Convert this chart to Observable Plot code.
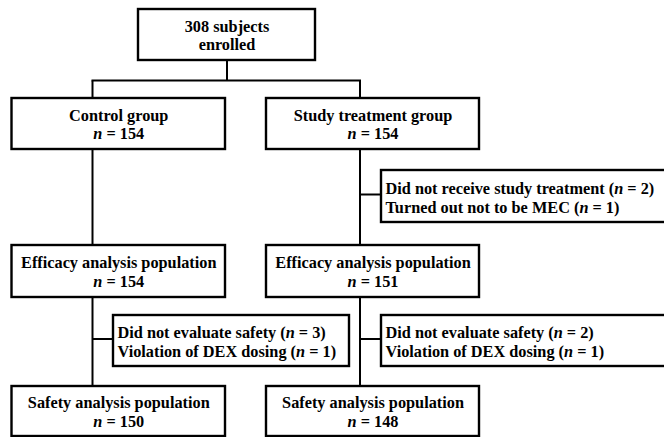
<!DOCTYPE html>
<html>
<head>
<meta charset="utf-8">
<script src="https://cdn.jsdelivr.net/npm/d3@7"></script>
<script src="https://cdn.jsdelivr.net/npm/@observablehq/plot@0.6"></script>
<style>
  html, body { margin: 0; padding: 0; background: #fff; overflow: hidden; }
  #chart svg { display: block; overflow: hidden; }
  #chart svg text { font-family: "Liberation Serif", "Times New Roman", serif !important; }
</style>
</head>
<body>
<div id="chart"></div>
<script>
// ---- data ----
const enrolled = 308;
const groups = ["Control group", "Study treatment group"];
const groupN = [154, 154];
const efficacyLabel = "Efficacy analysis population";
const efficacyN = [154, 151];
const safetyLabel = "Safety analysis population";
const safetyN = [150, 148];
const preEfficacyReasons = [[], ["Did not receive study treatment", "Turned out not to be MEC"]];
const preEfficacyCounts = [[], [2, 1]];
const preSafetyReasons = [["Did not evaluate safety", "Violation of DEX dosing"], ["Did not evaluate safety", "Violation of DEX dosing"]];
const preSafetyCounts = [[3, 1], [2, 1]];

// ---- layout (pixels) ----
const W = 664, H = 437;
const topBox = {x1: 138, x2: 315, y1: 9, y2: 60};
const splitY = 80;
const stemX = [92, 359.5];
const colBoxX = [[11.5, 225], [266, 479]];
const rowY = {group: [98, 149], efficacy: [245, 297], safety: [386, 436]};
const exclX = [[113, 349], [381, 670]];
const exclY = {pre: [170, 222], post: [315, 366]};
const FONT = "Liberation Serif";
const FS = 16.3;

// ---- build nodes ----
const boxes = [];
const texts = [];
boxes.push(topBox);
texts.push({x: (topBox.x1 + topBox.x2) / 2, y: (topBox.y1 + topBox.y2) / 2,
  text: `${enrolled} subjects\nenrolled`, anchor: "middle"});

groups.forEach((g, i) => {
  const [x1, x2] = colBoxX[i];
  const rows = [
    ["group", `${g}\nn = ${groupN[i]}`],
    ["efficacy", `${efficacyLabel}\nn = ${efficacyN[i]}`],
    ["safety", `${safetyLabel}\nn = ${safetyN[i]}`]
  ];
  rows.forEach(([r, t]) => {
    const [y1, y2] = rowY[r];
    boxes.push({x1, x2, y1, y2});
    texts.push({x: (x1 + x2) / 2, y: (y1 + y2) / 2, text: t, anchor: "middle"});
  });
  const excl = [["pre", preEfficacyReasons[i], preEfficacyCounts[i]],
                ["post", preSafetyReasons[i], preSafetyCounts[i]]];
  excl.forEach(([k, reasons, counts]) => {
    if (!reasons.length) return;
    const [ex1, ex2] = exclX[i];
    const [y1, y2] = exclY[k];
    boxes.push({x1: ex1, x2: ex2, y1, y2});
    texts.push({x: ex1 + 4, y: (y1 + y2) / 2 + 0.5,
      text: reasons.map((r, j) => `${r} (n = ${counts[j]})`).join("\n"), anchor: "start"});
  });
});

// ---- connectors ----
const links = [];
const cx = (topBox.x1 + topBox.x2) / 2;
links.push({x1: cx, y1: topBox.y2, x2: cx, y2: splitY});
links.push({x1: stemX[0] - 1, y1: splitY, x2: stemX[1] + 1, y2: splitY});
stemX.forEach((sx, i) => {
  links.push({x1: sx, y1: splitY, x2: sx, y2: rowY.group[0]});
  links.push({x1: sx, y1: rowY.group[1], x2: sx, y2: rowY.efficacy[0]});
  links.push({x1: sx, y1: rowY.efficacy[1], x2: sx, y2: rowY.safety[0]});
  if (preEfficacyReasons[i].length) {
    const ym = (exclY.pre[0] + exclY.pre[1]) / 2 - 2;
    links.push({x1: sx, y1: ym, x2: exclX[i][0], y2: ym});
  }
  if (preSafetyReasons[i].length) {
    const ym = (exclY.post[0] + exclY.post[1]) / 2 - 2;
    links.push({x1: sx, y1: ym, x2: exclX[i][0], y2: ym});
  }
});

const chart = Plot.plot({
  width: W, height: H,
  margin: 0,
  x: {domain: [0, W], range: [0, W], axis: null},
  y: {domain: [0, H], range: [0, H], axis: null},
  style: {fontFamily: FONT, background: "#fff"},
  marks: [
    Plot.link(links, {x1: "x1", y1: "y1", x2: "x2", y2: "y2", stroke: "#000", strokeWidth: 2}),
    Plot.rect(boxes, {x1: "x1", x2: "x2", y1: "y1", y2: "y2", fill: "#fff", stroke: "#000", strokeWidth: 2.4}),
    Plot.text(texts.filter(d => d.anchor === "middle"), {x: "x", y: "y", text: "text", textAnchor: "middle",
      lineAnchor: "middle", lineHeight: 1.15, fontSize: FS, fontWeight: "bold", fontFamily: FONT, fill: "#000"}),
    Plot.text(texts.filter(d => d.anchor === "start"), {x: "x", y: "y", text: "text", textAnchor: "start",
      lineAnchor: "middle", lineHeight: 1.18, fontSize: FS, fontWeight: "bold", fontFamily: FONT, fill: "#000"})
  ]
});

// italicise the statistical "n"
d3.select(chart).selectAll("text").each(function () {
  const lines = d3.select(this).selectAll("tspan").nodes();
  const targets = lines.length ? lines : [this];
  targets.forEach(node => {
    const s = node.textContent;
    if (!/\bn(?= = )/.test(s)) return;
    const parts = s.split(/\b(n)(?= = )/);
    node.textContent = "";
    parts.forEach((p, k) => {
      if (!p) return;
      const span = document.createElementNS("http://www.w3.org/2000/svg", "tspan");
      span.textContent = p;
      if (p === "n" && k % 2 === 1) span.setAttribute("font-style", "italic");
      node.appendChild(span);
    });
  });
});

document.getElementById("chart").appendChild(chart);
</script>
</body>
</html>
